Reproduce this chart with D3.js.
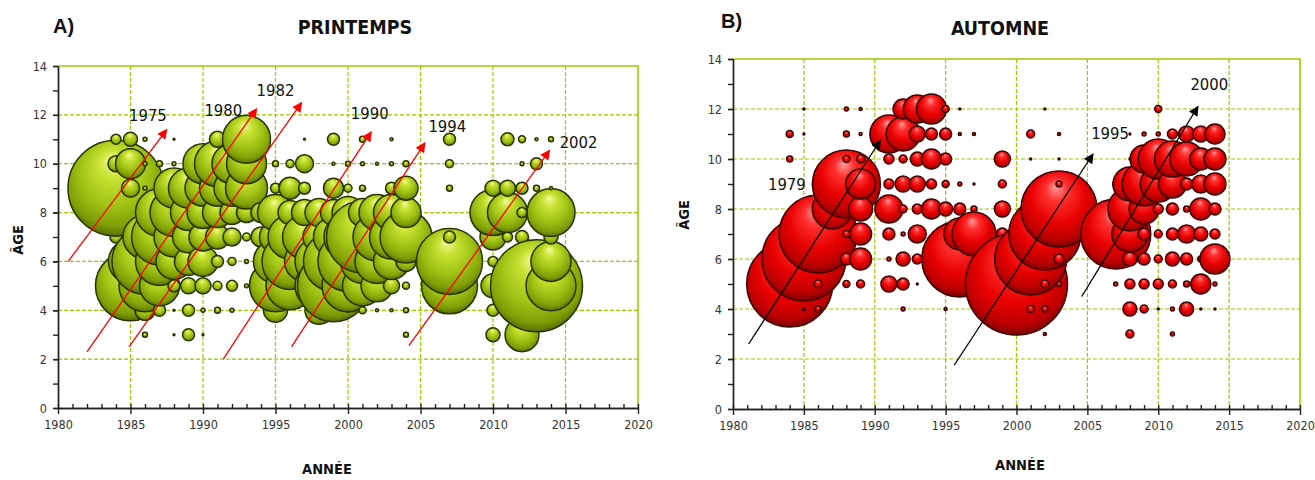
<!DOCTYPE html>
<html lang="fr">
<head>
<meta charset="UTF-8">
<title>Printemps / Automne</title>
<style>
  body { margin: 0; background: #fff; }
  svg text { font-family: "Liberation Sans Narrow", "Arial Narrow", "DejaVu Sans Condensed", sans-serif; fill: #111; }
  .grid line { stroke: #99cc00; stroke-width: 1.2; stroke-dasharray: 4,2; }
  .frame { fill: none; stroke: #99cc00; stroke-width: 1.6; }
  .axis path, .axis line { stroke: #222; stroke-width: 1.4; }
  .axis text { font-size: 12.5px; fill: #333; }
  .letter { font-family: "Liberation Sans", Arial, sans-serif !important; font-weight: bold; font-size: 20px; }
  .title { font-weight: bold; font-size: 19.5px; }
  .axis-title { font-weight: bold; font-size: 14.5px; }
  .cohort { font-size: 16.5px; }
</style>
</head>
<body>
<svg width="1315" height="480"></svg>
<script src="https://d3js.org/d3.v7.min.js"></script>
<script>
// [année, âge, abondance]
const springBubbles = [
  [1984,7,1.56],[1984,9,100],[1984,10,2.78],[1984,11,1.09],
  [1985,4,2.78],[1985,5,53.2],[1985,6,21.0],[1985,9,3.52],[1985,10,9.77],[1985,11,2.13],
  [1986,3,0.27],[1986,4,4.34],[1986,5,29.3],[1986,6,47.3],[1986,7,21.0],[1986,9,0.17],[1986,10,0.17],[1986,11,0.17],
  [1987,4,1.56],[1987,5,17.4],[1987,6,25.0],[1987,7,34.0],[1987,8,25.0],[1987,10,0.39],
  [1988,3,0.04],[1988,4,0.04],[1988,5,1.56],[1988,6,14.1],[1988,7,17.4],[1988,8,25.0],[1988,9,17.4],[1988,10,0.17],[1988,11,0.04],
  [1989,3,1.56],[1989,4,1.56],[1989,5,2.78],[1989,6,8.51],[1989,7,11.1],[1989,8,14.1],[1989,9,17.4],[1989,10,0.17],
  [1990,3,0.04],[1990,4,0.17],[1990,5,2.78],[1990,6,9.77],[1990,7,8.51],[1990,8,11.1],[1990,9,14.1],[1990,10,17.4],
  [1991,4,0.39],[1991,5,0.88],[1991,6,1.56],[1991,7,6.25],[1991,8,9.77],[1991,9,14.1],[1991,10,23.0],[1991,11,2.78],
  [1992,4,0.17],[1992,5,1.31],[1992,6,0.69],[1992,7,3.52],[1992,8,6.25],[1992,9,14.1],[1992,10,17.4],[1992,11,0.1],
  [1993,5,0.17],[1993,6,0.17],[1993,7,0.69],[1993,8,4.34],[1993,9,19.1],[1993,10,17.4],[1993,11,25.0],
  [1994,7,4.34],[1994,8,4.34],
  [1995,4,6.25],[1995,5,29.3],[1995,6,21.0],[1995,7,11.1],[1995,8,14.1],[1995,9,1.09],[1995,10,0.39],
  [1996,5,25.0],[1996,6,34.0],[1996,7,21.0],[1996,8,6.25],[1996,9,5.25],[1996,10,0.69],
  [1997,6,17.4],[1997,7,21.0],[1997,8,7.33],[1997,9,1.56],[1997,10,3.52],[1997,11,0.04],
  [1998,4,8.51],[1998,5,25.0],[1998,6,25.0],[1998,7,11.1],[1998,8,8.51],
  [1999,5,56.3],[1999,6,39.1],[1999,7,17.4],[1999,8,7.33],[1999,9,4.34],[1999,10,0.1],[1999,11,1.56],
  [2000,4,0.17],[2000,5,29.3],[2000,6,39.1],[2000,7,25.0],[2000,8,11.1],[2000,9,0.69],[2000,10,0.27],
  [2001,4,0.53],[2001,5,17.4],[2001,6,21.0],[2001,7,56.3],[2001,8,8.51],[2001,9,0.39],[2001,10,0.17],[2001,11,0.39],
  [2002,4,0.1],[2002,5,11.1],[2002,6,21.0],[2002,7,25.0],[2002,8,14.1],[2002,10,0.1],
  [2003,4,0.1],[2003,5,2.78],[2003,6,14.1],[2003,7,21.0],[2003,8,14.1],[2003,9,1.56],[2003,10,0.17],[2003,11,0.1],
  [2004,3,0.27],[2004,4,0.27],[2004,5,0.53],[2004,6,4.34],[2004,7,29.3],[2004,8,9.77],[2004,9,6.25],[2004,10,0.39],
  [2007,5,34.0],[2007,6,47.3],[2007,7,1.56],[2007,9,0.39],[2007,10,0.69],[2007,11,1.56],
  [2010,3,2.13],[2010,4,1.56],[2010,5,6.25],[2010,6,1.09],[2010,7,7.33],[2010,8,23.0],[2010,9,2.78],
  [2011,7,1.09],[2011,8,17.4],[2011,9,2.78],[2011,11,1.83],
  [2012,3,12.5],[2012,7,1.83],[2012,8,1.09],[2012,9,1.56],[2012,10,0.17],[2012,11,0.53],
  [2013,5,91.8],[2013,9,0.39],[2013,10,1.56],[2013,11,0.1],
  [2014,5,27.1],[2014,6,17.4],[2014,7,2.13],[2014,8,25.0],[2014,9,0.1],[2014,11,0.27]
];

const autumnBubbles = [
  [1984,5,80.3],[1984,10,0.39],[1984,11,0.53],
  [1985,4,0.1],[1985,6,76.6],[1985,11,0.04],[1985,12,0.04],
  [1986,4,0.39],[1986,5,0.69],[1986,7,66.0],[1986,8,0.17],
  [1987,8,17.4],
  [1988,5,0.53],[1988,6,1.56],[1988,7,0.53],[1988,9,50.2],[1988,10,0.53],[1988,11,0.39],[1988,12,0.17],
  [1989,5,0.69],[1989,6,5.25],[1989,7,5.25],[1989,8,6.25],[1989,9,9.77],[1989,10,0.69],[1989,11,0.1],[1989,12,0.1],
  [1991,5,2.78],[1991,6,0.17],[1991,7,1.56],[1991,8,8.51],[1991,9,1.09],[1991,10,1.09],[1991,11,15.7],
  [1992,4,0.17],[1992,5,1.56],[1992,6,2.13],[1992,7,0.17],[1992,8,0.69],[1992,9,2.78],[1992,10,0.69],[1992,11,12.5],[1992,12,4.34],
  [1993,5,0.04],[1993,6,1.09],[1993,7,3.52],[1993,8,1.09],[1993,9,2.78],[1993,10,2.13],[1993,11,2.78],[1993,12,8.51],
  [1994,8,4.34],[1994,9,1.09],[1994,10,4.34],[1994,11,1.56],[1994,12,9.77],
  [1995,4,0.1],[1995,8,2.13],[1995,9,0.53],[1995,10,1.56],[1995,11,1.56],[1995,12,0.53],
  [1996,5,5.25],[1996,6,62.7],[1996,7,11.1],[1996,8,1.56],[1996,9,0.17],[1996,11,0.1],[1996,12,0.04],
  [1997,7,21.0],[1997,8,0.39],[1997,9,0.04],[1997,11,0.1],
  [1999,7,1.56],[1999,8,2.78],[1999,9,0.69],[1999,10,2.78],
  [2000,5,113],
  [2001,4,0.53],[2001,6,56.3],[2001,10,0.04],[2001,11,0.69],
  [2002,3,0.1],[2002,4,0.39],[2002,5,0.69],[2002,7,56.3],[2002,12,0.04],
  [2003,5,0.27],[2003,6,1.09],[2003,8,62.7],[2003,9,0.39],[2003,10,0.04],[2003,11,0.1],
  [2007,5,0.17],[2007,7,53.2],[2007,9,0.39],
  [2008,3,0.69],[2008,4,2.13],[2008,5,1.09],[2008,6,2.13],[2008,7,14.1],[2008,8,21.0],[2008,9,12.5],[2008,10,0.04],[2008,11,0.04],
  [2009,4,0.69],[2009,5,1.09],[2009,6,1.56],[2009,7,1.56],[2009,8,9.77],[2009,9,21.0],[2009,10,8.51],[2009,11,0.17],
  [2010,4,0.04],[2010,5,1.09],[2010,6,0.69],[2010,7,0.69],[2010,8,1.09],[2010,9,14.1],[2010,10,17.4],[2010,11,0.17],[2010,12,0.53],
  [2011,3,0.17],[2011,4,0.17],[2011,5,0.69],[2011,6,2.13],[2011,7,1.56],[2011,8,1.56],[2011,9,8.51],[2011,10,14.1],[2011,11,1.09],
  [2012,4,2.13],[2012,5,0.39],[2012,6,1.56],[2012,7,3.52],[2012,8,0.39],[2012,9,1.56],[2012,10,12.5],[2012,11,2.78],
  [2013,4,0.04],[2013,5,4.34],[2013,6,0.39],[2013,7,2.13],[2013,8,5.25],[2013,9,3.52],[2013,10,5.25],[2013,11,2.78],
  [2014,4,0.04],[2014,5,0.17],[2014,6,9.77],[2014,7,1.09],[2014,8,1.56],[2014,9,5.25],[2014,10,5.25],[2014,11,4.34]
];

// flèches des cohortes : [année départ, âge départ, année fin, âge fin, libellé, année libellé, âge libellé]
const springArrows = [
  [1980.7, 6.0, 1987.5, 11.4, "1975", 1986.2, 12.0],
  [1982.0, 2.3, 1993.7, 12.25, "1980", 1991.4, 12.2],
  [1984.9, 2.5, 1996.8, 12.5, "1982", 1995.0, 13.0],
  [1991.4, 2.0, 2001.6, 11.3, "1990", 2001.5, 12.05],
  [1996.1, 2.5, 2005.3, 10.85, "1994", 2006.85, 11.55],
  [2004.2, 2.55, 2013.9, 10.55, "2002", 2015.9, 10.9]
];
const autumnArrows = [
  [1981.1, 2.6, 1990.4, 10.75, "1979", 1983.8, 9.0],
  [1995.6, 1.75, 2005.4, 10.2, "1995", 2006.6, 11.05],
  [2004.6, 4.5, 2012.8, 12.1, "2000", 2013.6, 13.0]
];

const yearTicks = [1980, 1985, 1990, 1995, 2000, 2005, 2010, 2015, 2020];
const ageTicks = [0, 2, 4, 6, 8, 10, 12, 14];

const svg = d3.select("svg");
const defs = svg.append("defs");

function addGradient(id, stops) {
  const g = defs.append("radialGradient").attr("id", id)
    .attr("cx", "50%").attr("cy", "42%").attr("r", "60%")
    .attr("fx", "46%").attr("fy", "20%");
  stops.forEach(s => g.append("stop").attr("offset", s[0]).attr("stop-color", s[1]));
}
addGradient("gGreen", [["0%", "#f4fca0"], ["25%", "#c8e232"], ["60%", "#9fc214"], ["85%", "#7f9e06"], ["100%", "#4e6400"]]);
addGradient("gRed", [["0%", "#ff9c9c"], ["25%", "#ff2e2e"], ["60%", "#e80000"], ["85%", "#bd0000"], ["100%", "#720000"]]);

function addMarker(id, color) {
  defs.append("marker").attr("id", id)
    .attr("viewBox", "0 0 10 10").attr("refX", 9).attr("refY", 5)
    .attr("markerWidth", 13).attr("markerHeight", 10)
    .attr("markerUnits", "userSpaceOnUse").attr("orient", "auto")
    .append("path").attr("d", "M0,0L10,5L0,10z").attr("fill", color);
}
addMarker("headRed", "#ff0000");
addMarker("headBlack", "#000");

// même échelle de taille pour les deux graphiques
const radius = d3.scaleSqrt().domain([0, 100]).range([0, 48]);

const panels = [
  { letter: "A)", title: "PRINTEMPS", data: springBubbles, arrows: springArrows,
    left: 58, right: 638, top: 66, bottom: 408,
    letterX: 53, letterY: 33, titleX: 355, titleY: 34,
    ageX: 18, ageY: 240, yearX: 327, yearY: 474,
    fill: "url(#gGreen)", stroke: "#283400", arrowColor: "#ff0000", head: "url(#headRed)" },
  { letter: "B)", title: "AUTOMNE", data: autumnBubbles, arrows: autumnArrows,
    left: 733, right: 1300, top: 59, bottom: 409,
    letterX: 721, letterY: 28, titleX: 1000, titleY: 35,
    ageX: 684, ageY: 215, yearX: 1020, yearY: 470,
    fill: "url(#gRed)", stroke: "#3a0000", arrowColor: "#000", head: "url(#headBlack)" }
];

panels.forEach(p => {
  const x = d3.scaleLinear().domain([1980, 2020]).range([p.left, p.right]);
  const y = d3.scaleLinear().domain([0, 14]).range([p.bottom, p.top]);
  const g = svg.append("g");

  // grille
  const grid = g.append("g").attr("class", "grid");
  grid.selectAll(".gx").data(yearTicks.slice(1, -1)).join("line")
    .attr("x1", d => x(d)).attr("x2", d => x(d))
    .attr("y1", y(14)).attr("y2", y(0));
  grid.selectAll(".gy").data(ageTicks.slice(1, -1)).join("line")
    .attr("x1", x(1980)).attr("x2", x(2020))
    .attr("y1", d => y(d)).attr("y2", d => y(d));
  g.append("path").attr("class", "frame")
    .attr("d", `M${x(1980)},${y(14)}H${x(2020)}V${y(0)}`);

  // bulles (ordre année puis âge : les plus récentes par-dessus)
  const rows = p.data.map(d => ({ year: d[0], age: d[1], v: d[2] }))
    .sort((a, b) => a.year - b.year || a.age - b.age);
  g.append("g").selectAll("circle").data(rows).join("circle")
    .attr("cx", d => x(d.year))
    .attr("cy", d => y(d.age))
    .attr("r", d => Math.max(radius(d.v), 0.8))
    .attr("fill", p.fill)
    .attr("stroke", p.stroke)
    .attr("stroke-width", 1.5);

  // axes
  g.append("g").attr("class", "axis")
    .attr("transform", `translate(0,${y(0)})`)
    .call(d3.axisBottom(x).tickValues(d3.range(1980, 2021)).tickSize(-4).tickSizeOuter(0).tickFormat(""));
  g.append("g").attr("class", "axis")
    .attr("transform", `translate(0,${y(0)})`)
    .call(d3.axisBottom(x).tickValues(yearTicks).tickSize(6).tickPadding(6).tickSizeOuter(0).tickFormat(d3.format("d")));
  g.append("g").attr("class", "axis")
    .attr("transform", `translate(${x(1980)},0)`)
    .call(d3.axisLeft(y).tickValues(d3.range(0, 15)).tickSize(5).tickSizeOuter(0).tickFormat(""));
  g.append("g").attr("class", "axis")
    .attr("transform", `translate(${x(1980)},0)`)
    .call(d3.axisLeft(y).tickValues(ageTicks).tickSize(5).tickPadding(6).tickSizeOuter(0));

  // flèches de cohortes
  g.append("g").selectAll("line").data(p.arrows).join("line")
    .attr("x1", d => x(d[0])).attr("y1", d => y(d[1]))
    .attr("x2", d => x(d[2])).attr("y2", d => y(d[3]))
    .attr("stroke", p.arrowColor).attr("stroke-width", 1.3)
    .attr("marker-end", p.head);
  g.append("g").selectAll("text").data(p.arrows).join("text")
    .attr("class", "cohort")
    .attr("x", d => x(d[5])).attr("y", d => y(d[6]))
    .attr("text-anchor", "middle").attr("dy", "0.35em")
    .text(d => d[4]);

  // titres
  g.append("text").attr("class", "letter").attr("x", p.letterX).attr("y", p.letterY).text(p.letter);
  g.append("text").attr("class", "title").attr("x", p.titleX).attr("y", p.titleY)
    .attr("text-anchor", "middle").text(p.title);
  g.append("text").attr("class", "axis-title")
    .attr("transform", `translate(${p.ageX},${p.ageY}) rotate(-90)`)
    .attr("text-anchor", "middle").attr("dy", "0.35em").text("ÂGE");
  g.append("text").attr("class", "axis-title").attr("x", p.yearX).attr("y", p.yearY)
    .attr("text-anchor", "middle").text("ANNÉE");
});
</script>
</body>
</html>
